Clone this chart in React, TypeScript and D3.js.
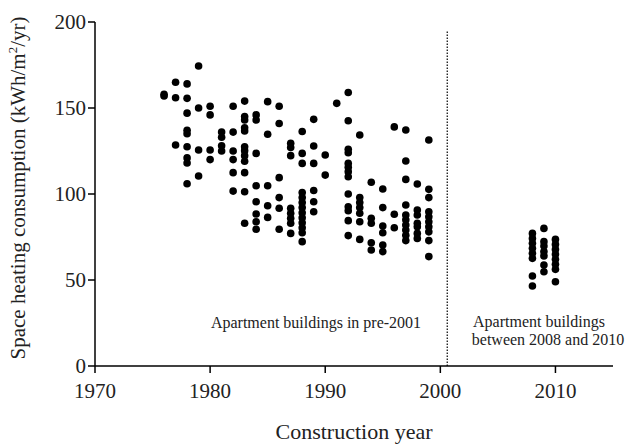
import React from "react";
import * as d3 from "d3";

const years = [1976, 1977, 1978, 1979, 1980, 1981, 1982, 1983, 1984, 1985, 1986, 1987, 1988, 1989, 1990, 1991, 1992, 1993, 1994, 1995, 1996, 1997, 1998, 1999, 2008, 2009, 2010];

const consumption = [
  [157, 158],
  [165, 156, 128.5],
  [164, 155.6, 147, 137, 135, 127.5, 121, 118, 106],
  [174.4, 150, 125.6, 110.5],
  [151, 146, 125.6, 120],
  [136, 133, 128, 125],
  [151, 136, 125, 120, 112.4, 101.7],
  [154, 145, 143, 138.5, 136.6, 127.5, 125.2, 122.3, 119, 112.4, 101.3, 83],
  [146, 143, 123.6, 104.8, 95.5, 88.4, 83.9, 79.5],
  [153.7, 134.7, 104.8, 93.2, 86.4],
  [151, 141, 109.5, 97.9, 91.7, 79.5],
  [129.5, 127, 122.3, 91.7, 88.8, 85.9, 83, 77.1],
  [136.3, 123.6, 117.8, 100.8, 97.9, 95, 92.1, 89.1, 86.2, 83.3, 80.4, 77.5, 72.3],
  [143.4, 127.9, 117.8, 102, 95.5, 89.7],
  [122.7, 111],
  [152.7],
  [159, 142.6, 126, 124, 117.8, 115.5, 113, 110, 100, 92.6, 90.3, 84.5, 75.8],
  [134.3, 97.9, 95, 92.1, 88.8, 83.9, 73.6],
  [106.8, 85.9, 83, 71.7, 67.4],
  [102.9, 92.1, 81.4, 77.5, 70.3, 66.5],
  [139, 88.2, 80.4],
  [137.2, 119.2, 108.5, 93.6, 87.8, 85, 82, 79, 76, 72.9],
  [105.8, 90.7, 87.8, 83, 81, 77.1, 74.2],
  [131.4, 102.7, 97.9, 89.7, 86.8, 83.9, 81, 78, 72.9, 63.6],
  [77.1, 74.2, 71.3, 68.4, 65.5, 62.6, 52.3, 46.5],
  [80, 72.3, 69.8, 66.5, 64, 58.7, 54.8],
  [73.6, 70.7, 67.8, 64.9, 62, 59.1, 56.2, 49],
];

const xTicks = [1970, 1980, 1990, 2000, 2010];
const yTicks = [0, 50, 100, 150, 200];
const xDomain = [1970, 2015];
const yDomain = [0, 200];
const dividerYear = 2000.6;
const dividerTop = 195;

const FONT = "'Liberation Serif', 'Times New Roman', serif";

export default function App() {
  const x = d3.scaleLinear().domain(xDomain).range([95, 613]);
  const y = d3.scaleLinear().domain(yDomain).range([366, 22]);

  const points: { yr: number; v: number }[] = [];
  years.forEach((yr, i) => consumption[i].forEach((v) => points.push({ yr, v })));

  return (
    <svg
      width={633}
      height={446}
      style={{ position: "absolute", left: 0, top: 0, background: "#fff" }}
      fontFamily={FONT}
    >
      <line x1={x(xDomain[0])} x2={x(xDomain[1])} y1={y(0)} y2={y(0)} stroke="#000" strokeWidth={1.5} />
      <line x1={x(xDomain[0])} x2={x(xDomain[0])} y1={y(0)} y2={y(200)} stroke="#000" strokeWidth={1.5} />
      {yTicks.map((t) => (
        <g key={"y" + t}>
          <line x1={x(1970) - 7} x2={x(1970)} y1={y(t)} y2={y(t)} stroke="#000" strokeWidth={1.5} />
          <text x={x(1970) - 9} y={y(t)} dy="0.35em" textAnchor="end" fontSize={21} fill="#222">
            {t}
          </text>
        </g>
      ))}
      {xTicks.map((t) => (
        <g key={"x" + t}>
          <line x1={x(t)} x2={x(t)} y1={y(0)} y2={y(0) + 7} stroke="#000" strokeWidth={1.5} />
          <text x={x(t)} y={y(0) + 32} textAnchor="middle" fontSize={21} fill="#222">
            {t}
          </text>
        </g>
      ))}
      <line
        x1={x(dividerYear)}
        x2={x(dividerYear)}
        y1={y(0)}
        y2={y(dividerTop)}
        stroke="#000"
        strokeWidth={1.2}
        strokeDasharray="1.5,1.5"
      />
      {points.map((p, i) => (
        <circle key={i} cx={x(p.yr)} cy={y(p.v)} r={3.8} fill="#000" />
      ))}
      <text x={316} y={328} textAnchor="middle" fontSize={16} fill="#222">
        Apartment buildings in pre-2001
      </text>
      <text x={539} y={327} textAnchor="middle" fontSize={16} fill="#222">
        Apartment buildings
      </text>
      <text x={548} y={345} textAnchor="middle" fontSize={16} fill="#222">
        between 2008 and 2010
      </text>
      <text x={354} y={439} textAnchor="middle" fontSize={22} fill="#222">
        Construction year
      </text>
      <text
        transform={`translate(25,${(y(0) + y(200)) / 2 - 6}) rotate(-90)`}
        textAnchor="middle"
        fontSize={21}
        fill="#222"
      >
        Space heating consumption (kWh/m
        <tspan fontSize={13} dy={-8}>2</tspan>
        <tspan dy={8}>/yr)</tspan>
      </text>
    </svg>
  );
}
